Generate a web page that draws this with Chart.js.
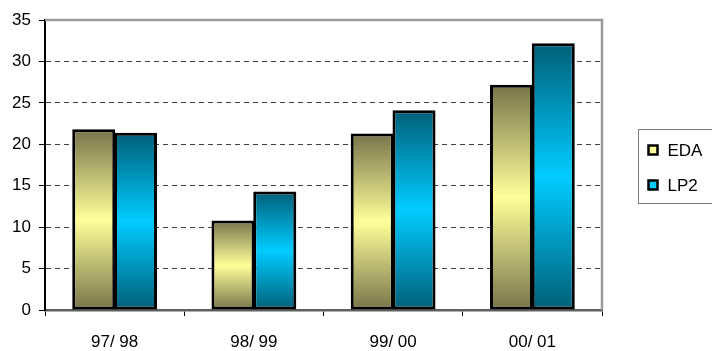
<!DOCTYPE html>
<html>
<head>
<meta charset="utf-8">
<script src="https://cdn.jsdelivr.net/npm/chart.js@4"></script>
<style>
  html, body { margin: 0; padding: 0; background: #fff; }
  #wrap { width: 712px; height: 351px; position: relative; }
</style>
</head>
<body>
<div id="wrap"><canvas id="c" width="712" height="351"></canvas></div>
<script>
const categories = ["97/ 98", "98/ 99", "99/ 00", "00/ 01"];
const edaValues = [21.8, 10.8, 21.3, 27.2];
const lp2Values = [21.4, 14.3, 24.1, 32.2];
const seriesNames = ["EDA", "LP2"];
const yTicks = [0, 5, 10, 15, 20, 25, 30, 35];

const FONT = "'Liberation Sans', Arial, sans-serif";

const palettes = [
  { edge: "#77744a", mid: "#ffff99", swatch: "#ffff99" },
  { edge: "#005f78", mid: "#00ccff", swatch: "#00ccff" }
];

function barGradient(ctx, pal) {
  const chart = ctx.chart;
  if (!chart.chartArea || ctx.type !== "data") return pal.mid;
  const ys = chart.scales.y;
  const top = ys.getPixelForValue(ctx.raw);
  const bot = ys.getPixelForValue(0);
  if (!isFinite(top) || !isFinite(bot) || top === bot) return pal.mid;
  const g = chart.ctx.createLinearGradient(0, top, 0, bot);
  g.addColorStop(0, pal.edge);
  g.addColorStop(0.5, pal.mid);
  g.addColorStop(1, pal.edge);
  return g;
}

const frameAndLegend = {
  id: "frameAndLegend",
  afterDatasetsDraw(chart) {
    const { ctx, chartArea: a } = chart;
    ctx.save();
    ctx.strokeStyle = "#9a9a9a";
    ctx.lineWidth = 2.5;
    ctx.beginPath();
    ctx.moveTo(a.left, a.top);
    ctx.lineTo(a.right, a.top);
    ctx.lineTo(a.right, a.bottom);
    ctx.stroke();
    ctx.restore();
  },
  afterDraw(chart) {
    const { ctx, chartArea: a } = chart;
    ctx.save();
    const bx = a.right + 36.5, by = 129.5, bw = 80, bh = 74;
    ctx.strokeStyle = "#7f7f7f";
    ctx.lineWidth = 1;
    ctx.strokeRect(bx, by, bw, bh);
    ctx.font = "17px " + FONT;
    ctx.textBaseline = "middle";
    ctx.textAlign = "left";
    chart.data.datasets.forEach((ds, i) => {
      const cy = by + 20.5 + i * 35;
      const sx = bx + 10;
      ctx.fillStyle = palettes[i].swatch;
      ctx.fillRect(sx, cy - 4.5, 9, 9);
      ctx.strokeStyle = "#000";
      ctx.lineWidth = 2.5;
      ctx.strokeRect(sx, cy - 4.5, 9, 9);
      ctx.fillStyle = "#000";
      ctx.fillText(ds.label, sx + 19, cy + 1);
    });
    ctx.restore();
  }
};

new Chart(document.getElementById("c"), {
  type: "bar",
  data: {
    labels: categories,
    datasets: [
      {
        label: seriesNames[0],
        data: edaValues,
        backgroundColor: (ctx) => barGradient(ctx, palettes[0]),
        borderColor: "#000",
        borderWidth: 3,
        borderSkipped: false
      },
      {
        label: seriesNames[1],
        data: lp2Values,
        backgroundColor: (ctx) => barGradient(ctx, palettes[1]),
        borderColor: "#000",
        borderWidth: 3,
        borderSkipped: false
      }
    ]
  },
  options: {
    responsive: false,
    animation: false,
    devicePixelRatio: 1,
    layout: { padding: { top: 20, right: 110, left: 0, bottom: 0 } },
    plugins: {
      legend: { display: false },
      tooltip: { enabled: false }
    },
    datasets: {
      bar: { categoryPercentage: 0.6, barPercentage: 1.03 }
    },
    scales: {
      x: {
        offset: true,
        grid: {
          offset: true,
          drawOnChartArea: false,
          drawTicks: true,
          tickLength: 6,
          tickColor: "#000",
          tickWidth: 1
        },
        border: { display: true, color: "#606060", width: 2.5 },
        ticks: {
          color: "#000",
          padding: 16,
          font: { family: FONT, size: 17 }
        },
        afterFit(scale) { scale.height = 41; }
      },
      y: {
        min: 0,
        max: 35,
        afterBuildTicks(scale) { scale.ticks = yTicks.map(v => ({ value: v })); },
        grid: {
          color: (ctx) => (ctx.tick && (ctx.tick.value === 0 || ctx.tick.value === 35)) ? "rgba(0,0,0,0)" : "#404040",
          lineWidth: 1,
          tickLength: 6,
          tickColor: "#000",
          tickWidth: 1,
          tickBorderDash: []
        },
        border: { display: true, color: "#000", width: 2, dash: [5, 4] },
        ticks: {
          color: "#000",
          padding: 8,
          font: { family: FONT, size: 17 }
        },
        afterFit(scale) { scale.width = 45; }
      }
    }
  },
  plugins: [frameAndLegend]
});
</script>
</body>
</html>
